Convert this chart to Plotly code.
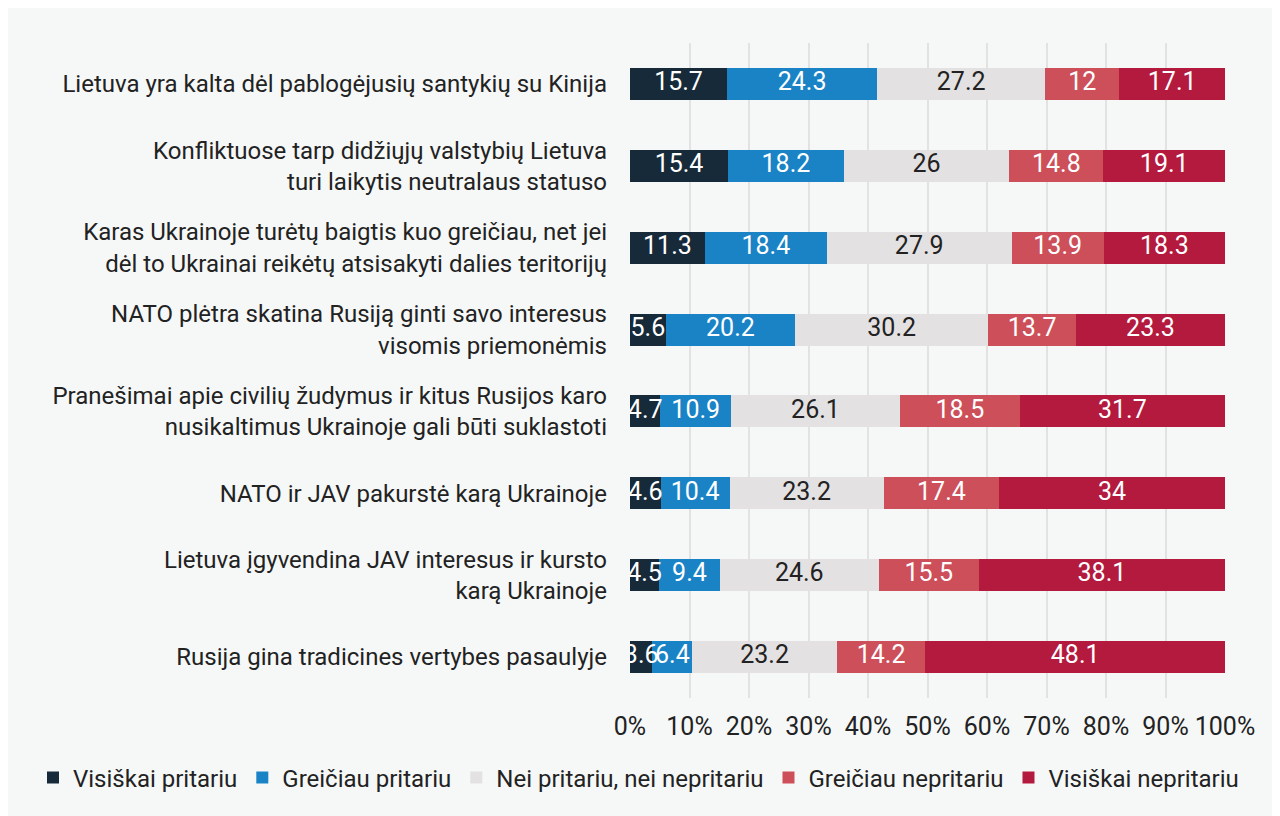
import plotly.graph_objects as go

categories = [
    "Lietuva yra kalta dėl pablogėjusių santykių su Kinija",
    "Konfliktuose tarp didžiųjų valstybių Lietuva<br>turi laikytis neutralaus statuso",
    "Karas Ukrainoje turėtų baigtis kuo greičiau, net jei<br>dėl to Ukrainai reikėtų atsisakyti dalies teritorijų",
    "NATO plėtra skatina Rusiją ginti savo interesus<br>visomis priemonėmis",
    "Pranešimai apie civilių žudymus ir kitus Rusijos karo<br>nusikaltimus Ukrainoje gali būti suklastoti",
    "NATO ir JAV pakurstė karą Ukrainoje",
    "Lietuva įgyvendina JAV interesus ir kursto<br>karą Ukrainoje",
    "Rusija gina tradicines vertybes pasaulyje",
]

series_names = [
    "Visiškai pritariu",
    "Greičiau pritariu",
    "Nei pritariu, nei nepritariu",
    "Greičiau nepritariu",
    "Visiškai nepritariu",
]

visiskai_pritariu = [15.7, 15.4, 11.3, 5.6, 4.7, 4.6, 4.5, 3.6]
greiciau_pritariu = [24.3, 18.2, 18.4, 20.2, 10.9, 10.4, 9.4, 6.4]
nei_nei = [27.2, 26, 27.9, 30.2, 26.1, 23.2, 24.6, 23.2]
greiciau_nepritariu = [12, 14.8, 13.9, 13.7, 18.5, 17.4, 15.5, 14.2]
visiskai_nepritariu = [17.1, 19.1, 18.3, 23.3, 31.7, 34, 38.1, 48.1]

series_values = [visiskai_pritariu, greiciau_pritariu, nei_nei,
                 greiciau_nepritariu, visiskai_nepritariu]
colors = ["#172a3a", "#1a83c6", "#e3e1e2", "#cd4f5a", "#b31a3e"]
text_colors = ["white", "white", "#222222", "white", "white"]

x_tickvals = [0, 10, 20, 30, 40, 50, 60, 70, 80, 90, 100]
x_ticktext = [f"{v}%" for v in x_tickvals]

fig = go.Figure()
for name, vals, col in zip(series_names, series_values, colors):
    fig.add_trace(go.Bar(
        name=name,
        y=categories,
        x=vals,
        orientation="h",
        marker=dict(color=col, line=dict(width=0)),
        hoverinfo="skip",
    ))

# value labels centred on each (normalised) segment, drawn above all bars
totals = [sum(s[i] for s in series_values) for i in range(len(categories))]
cum = [0.0] * len(categories)
for vals, tcol in zip(series_values, text_colors):
    mids = []
    for i, v in enumerate(vals):
        mids.append((cum[i] + v / 2) / totals[i] * 100)
        cum[i] += v
    fig.add_trace(go.Scatter(
        x=mids, y=categories, mode="text",
        text=[f"{v:g}" for v in vals],
        textposition="middle center",
        textfont=dict(color=tcol, size=25, family="Roboto"),
        showlegend=False, hoverinfo="skip", cliponaxis=True,
    ))

W, H = 1300, 830
L, T = 622, 35
R = W - 1217
B = H - 690
pw, ph = W - L - R, H - T - B

def px_x(p):
    return (p - L) / pw

def px_y(p):
    return (H - B - p) / ph

fig.update_layout(
    width=W, height=H,
    barmode="stack",
    barnorm="percent",
    bargap=0.61,
    paper_bgcolor="#f6f8f8",
    plot_bgcolor="#f6f8f8",
    margin=dict(l=L, r=R, t=T, b=B, pad=0),
    font=dict(family="Roboto", color="#222222", size=24),
    showlegend=True,
    legend=dict(
        orientation="h",
        x=px_x(25), xanchor="left",
        y=px_y(770), yanchor="middle",
        font=dict(size=24, family="Roboto", color="#222222"),
        itemwidth=30,
        traceorder="normal",
        bgcolor="rgba(0,0,0,0)",
        tracegroupgap=0,
    ),
    xaxis=dict(
        range=[0, 100],
        tickvals=x_tickvals,
        ticktext=x_ticktext,
        showgrid=True,
        gridcolor="#e2e2e2",
        gridwidth=1.5,
        zeroline=False,
        showline=False,
        ticks="",
        ticklabelstandoff=11,
        tickfont=dict(size=25, family="Roboto", color="#222222"),
    ),
    yaxis=dict(
        categoryorder="array",
        categoryarray=categories[::-1],
        range=[-0.5, 7.5],
        showgrid=False,
        zeroline=False,
        showline=False,
        ticks="",
        ticklabelstandoff=22,
        tickfont=dict(size=24, family="Roboto", color="#222222"),
    ),
)

fig.write_html("out.html")
